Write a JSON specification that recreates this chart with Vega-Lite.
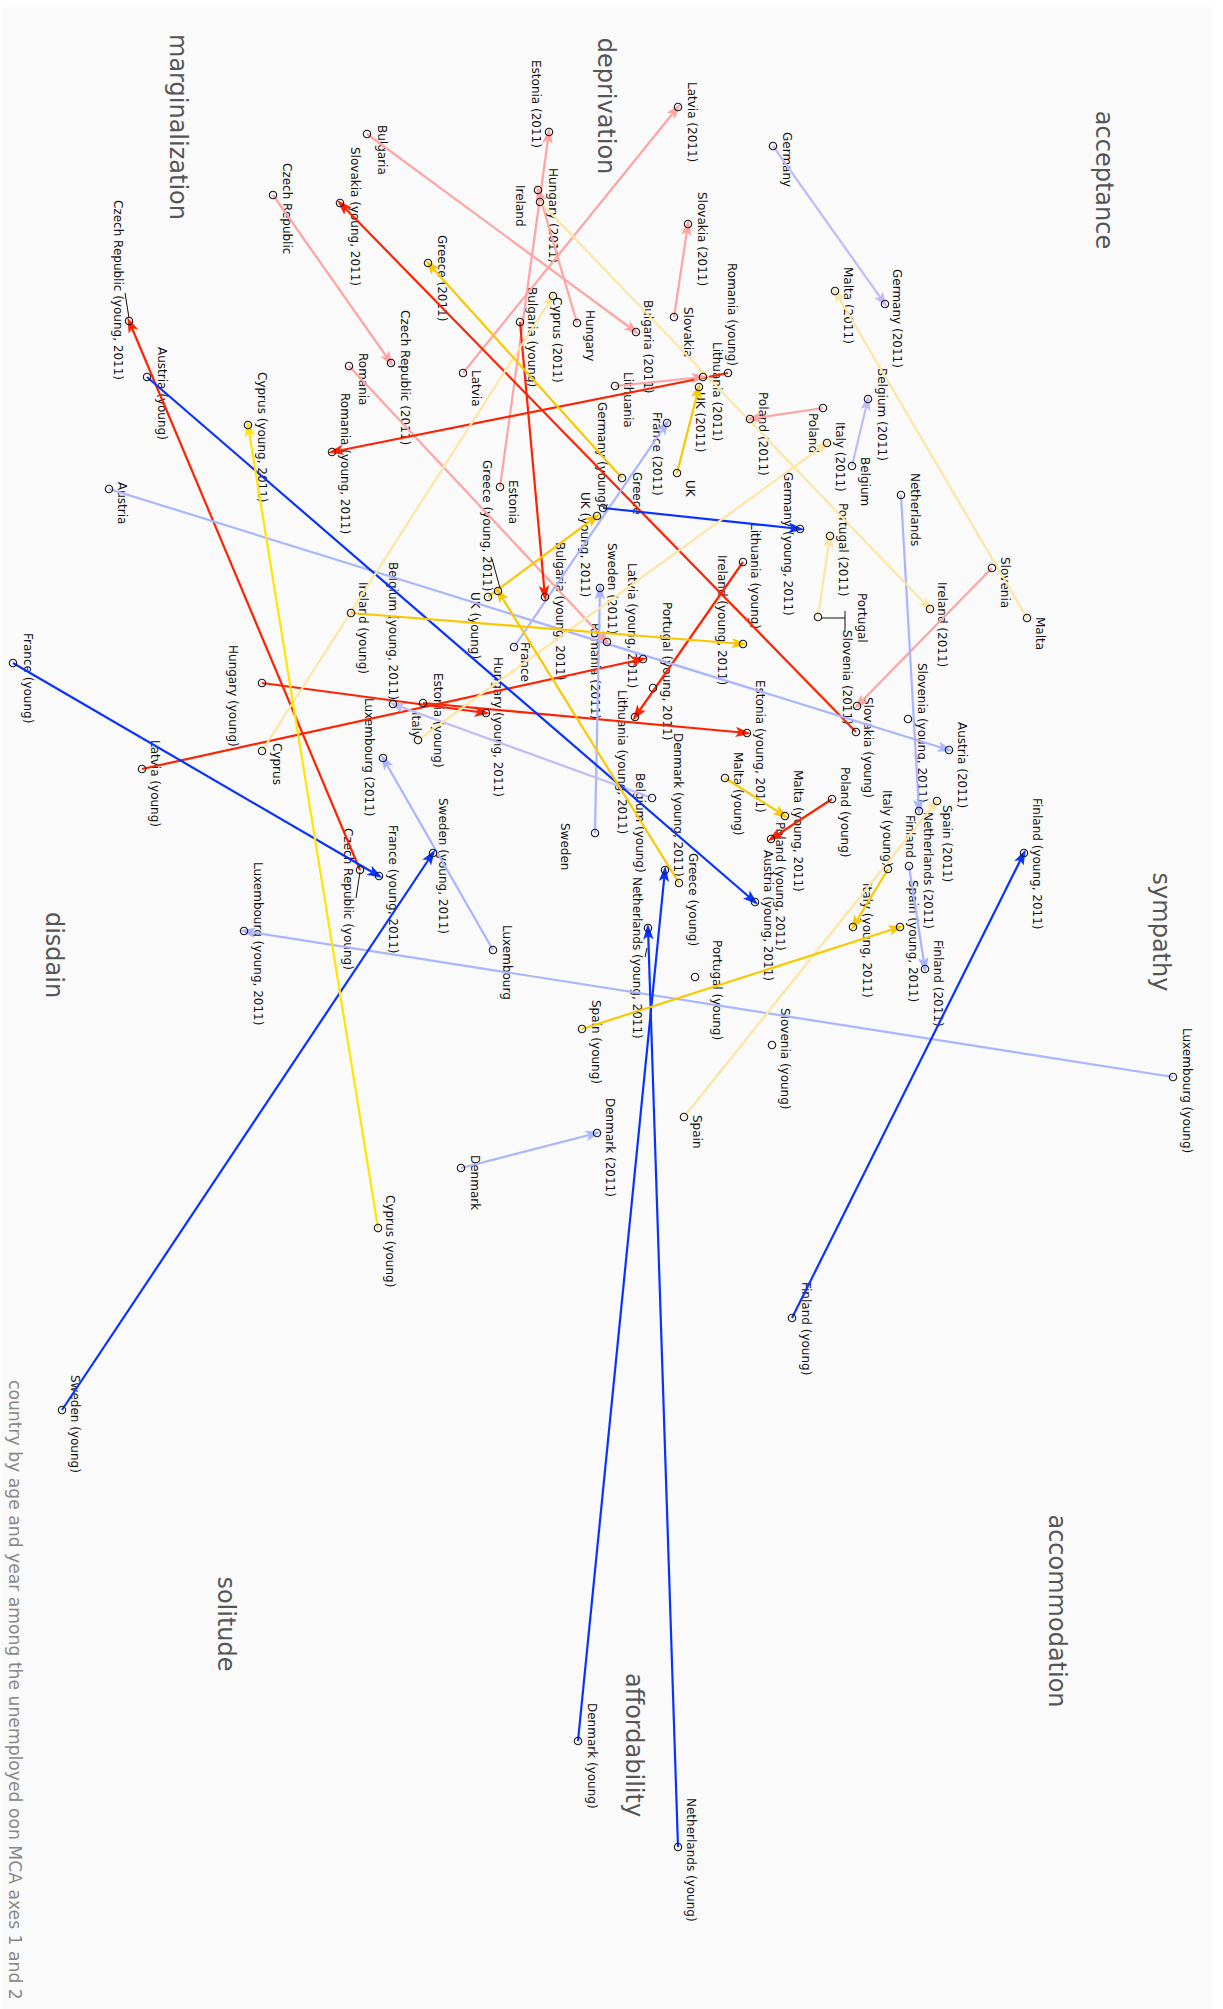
{
  "$schema": "https://vega.github.io/schema/vega-lite/v6.json",
  "width": 1210,
  "height": 2002,
  "autosize": {"type": "none"},
  "padding": {"left": 2, "top": 7, "right": 11, "bottom": 0},
  "background": "#ffffff",
  "config": {"view": {"fill": "#fafafa", "stroke": null}},
  "datasets": {
    "points": [
      {"name": "Austria", "a2": -5.01, "a1": -5.11, "la2": -4.88, "la1": -5.18},
      {"name": "Austria (2011)", "a2": 3.39, "a1": -2.5, "la2": 3.52, "la1": -2.78},
      {"name": "Austria (young)", "a2": -4.63, "a1": -6.23, "la2": -4.48, "la1": -6.53},
      {"name": "Austria (young, 2011)", "a2": 1.45, "a1": -0.98, "la2": 1.58, "la1": -1.5},
      {"name": "Belgium", "a2": 2.42, "a1": -5.34, "la2": 2.55, "la1": -5.43},
      {"name": "Belgium (2011)", "a2": 2.58, "a1": -6.01, "la2": 2.72, "la1": -6.32},
      {"name": "Belgium (young)", "a2": 0.42, "a1": -2.02, "la2": 0.3, "la1": -2.27},
      {"name": "Belgium (young, 2011)", "a2": -2.17, "a1": -2.96, "la2": -2.17, "la1": -4.38},
      {"name": "Bulgaria", "a2": -2.43, "a1": -8.66, "la2": -2.28, "la1": -8.75},
      {"name": "Bulgaria (2011)", "a2": 0.26, "a1": -6.68, "la2": 0.38, "la1": -7.0},
      {"name": "Bulgaria (young)", "a2": -0.9, "a1": -6.78, "la2": -0.78, "la1": -7.13},
      {"name": "Bulgaria (young, 2011)", "a2": -0.65, "a1": -4.03, "la2": -0.5, "la1": -4.58},
      {"name": "Cyprus", "a2": -3.48, "a1": -2.49, "la2": -3.33, "la1": -2.57},
      {"name": "Cyprus (2011)", "a2": -0.57, "a1": -7.04, "la2": -0.53, "la1": -7.03},
      {"name": "Cyprus (young)", "a2": -2.32, "a1": 2.28, "la2": -2.2, "la1": 1.95},
      {"name": "Cyprus (young, 2011)", "a2": -3.62, "a1": -5.75, "la2": -3.48, "la1": -6.28},
      {"name": "Czech Republic", "a2": -3.37, "a1": -8.05, "la2": -3.23, "la1": -8.37},
      {"name": "Czech Republic (2011)", "a2": -2.19, "a1": -6.37, "la2": -2.05, "la1": -6.9},
      {"name": "Czech Republic (young)", "a2": -2.5, "a1": -1.3, "la2": -2.62, "la1": -1.72},
      {"name": "Czech Republic (young, 2011)", "a2": -4.81, "a1": -6.79, "la2": -4.92, "la1": -8.0},
      {"name": "Denmark", "a2": -1.49, "a1": 1.68, "la2": -1.35, "la1": 1.55},
      {"name": "Denmark (2011)", "a2": -0.13, "a1": 1.33, "la2": 0.0, "la1": 0.98},
      {"name": "Denmark (young)", "a2": -0.32, "a1": 7.41, "la2": -0.18, "la1": 7.03},
      {"name": "Denmark (young, 2011)", "a2": 0.55, "a1": -1.3, "la2": 0.68, "la1": -2.67},
      {"name": "Estonia", "a2": -1.1, "a1": -5.13, "la2": -0.97, "la1": -5.2},
      {"name": "Estonia (2011)", "a2": -0.61, "a1": -8.68, "la2": -0.74, "la1": -9.4},
      {"name": "Estonia (young)", "a2": -1.87, "a1": -2.97, "la2": -1.72, "la1": -3.27},
      {"name": "Estonia (young, 2011)", "a2": 1.37, "a1": -2.67, "la2": 1.5, "la1": -3.2},
      {"name": "Finland", "a2": 2.99, "a1": -1.34, "la2": 3.0, "la1": -1.85},
      {"name": "Finland (2011)", "a2": 3.15, "a1": -0.31, "la2": 3.28, "la1": -0.6},
      {"name": "Finland (young)", "a2": 1.82, "a1": 3.18, "la2": 1.96, "la1": 2.82},
      {"name": "Finland (young, 2011)", "a2": 4.14, "a1": -1.47, "la2": 4.27, "la1": -2.02},
      {"name": "France", "a2": -0.96, "a1": -3.53, "la2": -0.85, "la1": -3.58},
      {"name": "France (2011)", "a2": 0.57, "a1": -5.77, "la2": 0.47, "la1": -5.88},
      {"name": "France (young)", "a2": -5.97, "a1": -3.37, "la2": -5.82, "la1": -3.67},
      {"name": "France (young, 2011)", "a2": -2.31, "a1": -1.24, "la2": -2.17, "la1": -1.75},
      {"name": "Germany", "a2": 1.63, "a1": -8.54, "la2": 1.77, "la1": -8.68},
      {"name": "Germany (2011)", "a2": 2.75, "a1": -6.96, "la2": 2.87, "la1": -7.31},
      {"name": "Germany (young)", "a2": -0.07, "a1": -4.92, "la2": -0.08, "la1": -5.98},
      {"name": "Germany (young, 2011)", "a2": 1.9, "a1": -4.71, "la2": 1.78, "la1": -5.28},
      {"name": "Greece", "a2": 0.12, "a1": -5.22, "la2": 0.27, "la1": -5.28},
      {"name": "Greece (2011)", "a2": -1.82, "a1": -7.37, "la2": -1.68, "la1": -7.65},
      {"name": "Greece (young)", "a2": 0.69, "a1": -1.17, "la2": 0.83, "la1": -1.47},
      {"name": "Greece (young, 2011)", "a2": -1.12, "a1": -4.09, "la2": -1.23, "la1": -5.4},
      {"name": "Hungary", "a2": -0.33, "a1": -6.77, "la2": -0.2, "la1": -6.9},
      {"name": "Hungary (2011)", "a2": -0.72, "a1": -8.1, "la2": -0.57, "la1": -8.32},
      {"name": "Hungary (young)", "a2": -3.48, "a1": -3.17, "la2": -3.77, "la1": -3.55},
      {"name": "Hungary (young, 2011)", "a2": -1.24, "a1": -2.87, "la2": -1.12, "la1": -3.43},
      {"name": "Ireland", "a2": -0.7, "a1": -7.98, "la2": -0.9, "la1": -8.15},
      {"name": "Ireland (2011)", "a2": 3.2, "a1": -3.91, "la2": 3.32, "la1": -4.18},
      {"name": "Ireland (young)", "a2": -2.59, "a1": -3.87, "la2": -2.47, "la1": -4.18},
      {"name": "Ireland (young, 2011)", "a2": 1.33, "a1": -3.56, "la2": 1.12, "la1": -4.45},
      {"name": "Italy", "a2": -1.92, "a1": -2.6, "la2": -1.94, "la1": -2.88},
      {"name": "Italy (2011)", "a2": 2.17, "a1": -5.57, "la2": 2.3, "la1": -5.78},
      {"name": "Italy (young)", "a2": 2.78, "a1": -1.31, "la2": 2.77, "la1": -2.1},
      {"name": "Italy (young, 2011)", "a2": 2.43, "a1": -0.73, "la2": 2.57, "la1": -1.17},
      {"name": "Latvia", "a2": -1.47, "a1": -6.27, "la2": -1.34, "la1": -6.3},
      {"name": "Latvia (2011)", "a2": 0.68, "a1": -8.93, "la2": 0.82, "la1": -9.18},
      {"name": "Latvia (young)", "a2": -4.68, "a1": -2.31, "la2": -4.55, "la1": -2.6},
      {"name": "Latvia (young, 2011)", "a2": 0.33, "a1": -3.41, "la2": 0.22, "la1": -4.37},
      {"name": "Lithuania", "a2": 0.05, "a1": -6.14, "la2": 0.18, "la1": -6.28},
      {"name": "Lithuania (2011)", "a2": 0.93, "a1": -6.23, "la2": 1.07, "la1": -6.58},
      {"name": "Lithuania (young)", "a2": 1.33, "a1": -4.38, "la2": 1.45, "la1": -4.77},
      {"name": "Lithuania (young, 2011)", "a2": 0.25, "a1": -2.83, "la2": 0.12, "la1": -3.1},
      {"name": "Luxembourg", "a2": -1.17, "a1": -0.5, "la2": -1.03, "la1": -0.75},
      {"name": "Luxembourg (2011)", "a2": -2.27, "a1": -2.42, "la2": -2.41, "la1": -3.02},
      {"name": "Luxembourg (young)", "a2": 5.63, "a1": 0.77, "la2": 5.77, "la1": 0.28},
      {"name": "Luxembourg (young, 2011)", "a2": -3.66, "a1": -0.69, "la2": -3.52, "la1": -1.38},
      {"name": "Malta", "a2": 4.17, "a1": -3.82, "la2": 4.3, "la1": -3.83},
      {"name": "Malta (2011)", "a2": 2.25, "a1": -7.09, "la2": 2.38, "la1": -7.33},
      {"name": "Malta (young)", "a2": 1.15, "a1": -2.22, "la2": 1.28, "la1": -2.48},
      {"name": "Malta (young, 2011)", "a2": 1.75, "a1": -1.84, "la2": 1.88, "la1": -2.3},
      {"name": "Netherlands", "a2": 2.91, "a1": -5.05, "la2": 3.05, "la1": -5.27},
      {"name": "Netherlands (2011)", "a2": 3.09, "a1": -1.89, "la2": 3.18, "la1": -1.88},
      {"name": "Netherlands (young)", "a2": 0.68, "a1": 8.47, "la2": 0.81, "la1": 7.98},
      {"name": "Netherlands (young, 2011)", "a2": 0.38, "a1": -0.72, "la2": 0.27, "la1": -1.23},
      {"name": "Poland", "a2": 2.13, "a1": -5.92, "la2": 2.03, "la1": -5.87},
      {"name": "Poland (2011)", "a2": 1.4, "a1": -5.81, "la2": 1.53, "la1": -6.08},
      {"name": "Poland (young)", "a2": 2.22, "a1": -2.01, "la2": 2.35, "la1": -2.33},
      {"name": "Poland (young, 2011)", "a2": 1.61, "a1": -1.61, "la2": 1.7, "la1": -1.78},
      {"name": "Portugal", "a2": 2.08, "a1": -3.83, "la2": 2.52, "la1": -4.07},
      {"name": "Portugal (2011)", "a2": 2.2, "a1": -4.64, "la2": 2.33, "la1": -4.97},
      {"name": "Portugal (young)", "a2": 0.85, "a1": -0.23, "la2": 1.07, "la1": -0.6},
      {"name": "Portugal (young, 2011)", "a2": 0.43, "a1": -3.12, "la2": 0.57, "la1": -3.98},
      {"name": "Romania", "a2": -2.61, "a1": -6.34, "la2": -2.47, "la1": -6.47},
      {"name": "Romania (2011)", "a2": -0.03, "a1": -3.58, "la2": -0.15, "la1": -3.77},
      {"name": "Romania (young)", "a2": 1.18, "a1": -6.27, "la2": 1.22, "la1": -7.37},
      {"name": "Romania (young, 2011)", "a2": -2.78, "a1": -5.48, "la2": -2.65, "la1": -6.07},
      {"name": "Slovakia", "a2": 0.64, "a1": -6.83, "la2": 0.78, "la1": -6.93},
      {"name": "Slovakia (2011)", "a2": 0.78, "a1": -7.76, "la2": 0.92, "la1": -8.08},
      {"name": "Slovakia (young)", "a2": 2.46, "a1": -2.68, "la2": 2.58, "la1": -3.03},
      {"name": "Slovakia (young, 2011)", "a2": -2.7, "a1": -7.97, "la2": -2.55, "la1": -8.53},
      {"name": "Slovenia", "a2": 3.82, "a1": -4.32, "la2": 3.95, "la1": -4.43},
      {"name": "Slovenia (2011)", "a2": 2.47, "a1": -2.94, "la2": 2.37, "la1": -3.7},
      {"name": "Slovenia (young)", "a2": 1.62, "a1": 0.45, "la2": 1.75, "la1": 0.08},
      {"name": "Slovenia (young, 2011)", "a2": 2.98, "a1": -2.81, "la2": 3.12, "la1": -3.37},
      {"name": "Spain", "a2": 0.74, "a1": 1.17, "la2": 0.87, "la1": 1.15},
      {"name": "Spain (2011)", "a2": 3.27, "a1": -1.99, "la2": 3.37, "la1": -1.95},
      {"name": "Spain (young)", "a2": -0.28, "a1": 0.29, "la2": -0.14, "la1": 0.0},
      {"name": "Spain (young, 2011)", "a2": 2.9, "a1": -0.73, "la2": 3.03, "la1": -1.2},
      {"name": "Sweden", "a2": -0.15, "a1": -1.67, "la2": -0.45, "la1": -1.77},
      {"name": "Sweden (2011)", "a2": -0.1, "a1": -4.12, "la2": 0.02, "la1": -4.57},
      {"name": "Sweden (young)", "a2": -5.48, "a1": 4.1, "la2": -5.35, "la1": 3.75},
      {"name": "Sweden (young, 2011)", "a2": -1.77, "a1": -1.47, "la2": -1.67, "la1": -2.02},
      {"name": "UK", "a2": 0.67, "a1": -5.27, "la2": 0.8, "la1": -5.2},
      {"name": "UK (2011)", "a2": 0.89, "a1": -6.13, "la2": 0.9, "la1": -6.08},
      {"name": "UK (young)", "a2": -1.22, "a1": -4.03, "la2": -1.35, "la1": -4.08},
      {"name": "UK (young, 2011)", "a2": -0.13, "a1": -4.84, "la2": -0.25, "la1": -5.08}
    ],
    "arrows": [
      {"from": "Bulgaria", "to": "Bulgaria (2011)", "shade": "pink"},
      {"from": "Czech Republic", "to": "Czech Republic (2011)", "shade": "pink"},
      {"from": "Estonia", "to": "Estonia (2011)", "shade": "pink"},
      {"from": "Hungary", "to": "Hungary (2011)", "shade": "pink"},
      {"from": "Latvia", "to": "Latvia (2011)", "shade": "pink"},
      {"from": "Lithuania", "to": "Lithuania (2011)", "shade": "pink"},
      {"from": "Poland", "to": "Poland (2011)", "shade": "pink"},
      {"from": "Romania", "to": "Romania (2011)", "shade": "pink"},
      {"from": "Slovakia", "to": "Slovakia (2011)", "shade": "pink"},
      {"from": "Slovenia", "to": "Slovenia (2011)", "shade": "pink"},
      {"from": "Bulgaria (young)", "to": "Bulgaria (young, 2011)", "shade": "red"},
      {"from": "Czech Republic (young)", "to": "Czech Republic (young, 2011)", "shade": "red"},
      {"from": "Estonia (young)", "to": "Estonia (young, 2011)", "shade": "red"},
      {"from": "Hungary (young)", "to": "Hungary (young, 2011)", "shade": "red"},
      {"from": "Latvia (young)", "to": "Latvia (young, 2011)", "shade": "red"},
      {"from": "Lithuania (young)", "to": "Lithuania (young, 2011)", "shade": "red"},
      {"from": "Poland (young)", "to": "Poland (young, 2011)", "shade": "red"},
      {"from": "Romania (young)", "to": "Romania (young, 2011)", "shade": "red"},
      {"from": "Slovakia (young)", "to": "Slovakia (young, 2011)", "shade": "red"},
      {"from": "Austria", "to": "Austria (2011)", "shade": "lightblue"},
      {"from": "Denmark", "to": "Denmark (2011)", "shade": "lightblue"},
      {"from": "Finland", "to": "Finland (2011)", "shade": "lightblue"},
      {"from": "France", "to": "France (2011)", "shade": "lightblue"},
      {"from": "Luxembourg", "to": "Luxembourg (2011)", "shade": "lightblue"},
      {"from": "Netherlands", "to": "Netherlands (2011)", "shade": "lightblue"},
      {"from": "Sweden", "to": "Sweden (2011)", "shade": "lightblue"},
      {"from": "Luxembourg (young)", "to": "Luxembourg (young, 2011)", "shade": "lightblue"},
      {"from": "Belgium", "to": "Belgium (2011)", "shade": "lavender"},
      {"from": "Germany", "to": "Germany (2011)", "shade": "lavender"},
      {"from": "Belgium (young)", "to": "Belgium (young, 2011)", "shade": "lavender"},
      {"from": "Austria (young)", "to": "Austria (young, 2011)", "shade": "blue"},
      {"from": "Denmark (young)", "to": "Denmark (young, 2011)", "shade": "blue"},
      {"from": "Finland (young)", "to": "Finland (young, 2011)", "shade": "blue"},
      {"from": "France (young)", "to": "France (young, 2011)", "shade": "blue"},
      {"from": "Germany (young)", "to": "Germany (young, 2011)", "shade": "blue"},
      {"from": "Netherlands (young)", "to": "Netherlands (young, 2011)", "shade": "blue"},
      {"from": "Sweden (young)", "to": "Sweden (young, 2011)", "shade": "blue"},
      {"from": "Cyprus", "to": "Cyprus (2011)", "shade": "lightyellow"},
      {"from": "Ireland", "to": "Ireland (2011)", "shade": "lightyellow"},
      {"from": "Italy", "to": "Italy (2011)", "shade": "lightyellow"},
      {"from": "Malta", "to": "Malta (2011)", "shade": "lightyellow"},
      {"from": "Portugal", "to": "Portugal (2011)", "shade": "lightyellow"},
      {"from": "Spain", "to": "Spain (2011)", "shade": "lightyellow"},
      {"from": "Greece", "to": "Greece (2011)", "shade": "gold"},
      {"from": "UK", "to": "UK (2011)", "shade": "gold"},
      {"from": "Greece (young)", "to": "Greece (young, 2011)", "shade": "gold"},
      {"from": "Ireland (young)", "to": "Ireland (young, 2011)", "shade": "gold"},
      {"from": "Italy (young)", "to": "Italy (young, 2011)", "shade": "gold"},
      {"from": "Malta (young)", "to": "Malta (young, 2011)", "shade": "gold"},
      {"from": "Spain (young)", "to": "Spain (young, 2011)", "shade": "gold"},
      {"from": "UK (young)", "to": "UK (young, 2011)", "shade": "gold"},
      {"from": "Cyprus (young)", "to": "Cyprus (young, 2011)", "shade": "yellow"}
    ],
    "leaders": [
      {"a2": -4.81, "a1": -6.82, "b2": -4.85, "b1": -7.07},
      {"a2": -1.1, "a1": -4.12, "b2": -1.18, "b1": -4.41},
      {"a2": -2.5, "a1": -1.28, "b2": -2.54, "b1": -1.02},
      {"a2": 2.12, "a1": -3.82, "b2": 2.35, "b1": -3.82},
      {"a2": 2.35, "a1": -3.89, "b2": 2.35, "b1": -3.68},
      {"a2": 0.37, "a1": -0.52, "b2": 0.35, "b1": -0.43}
    ],
    "regions": [
      {"word": "acceptance", "a2": 4.93, "a1": -8.2},
      {"word": "deprivation", "a2": -0.05, "a1": -8.94},
      {"word": "marginalization", "a2": -4.33, "a1": -8.73},
      {"word": "disdain", "a2": -5.57, "a1": -0.45},
      {"word": "solitude", "a2": -3.85, "a1": 6.24},
      {"word": "affordability", "a2": 0.23, "a1": 7.45},
      {"word": "accommodation", "a2": 4.46, "a1": 6.11},
      {"word": "sympathy", "a2": 5.5, "a1": -0.68}
    ],
    "caption": [
      {"text": "country by age and year among the unemployed oon MCA axes 1 and 2", "a2": -5.96, "a1": 3.8}
    ]
  },
  "layer": [
    {
      "data": {"name": "points"},
      "mark": {"type": "text", "angle": 90, "align": "left", "baseline": "middle", "font": "DejaVu Sans", "fontSize": 12, "color": "#111111"},
      "encoding": {
        "x": {"field": "la2", "type": "quantitative", "scale": {"domain": [-6.08, 6.02], "nice": false, "zero": false}, "axis": null},
        "y": {"field": "la1", "type": "quantitative", "scale": {"domain": [-9.93, 10.09], "nice": false, "zero": false, "reverse": true}, "axis": null},
        "text": {"field": "name"}
      }
    },
    {
      "data": {"name": "arrows"},
      "transform": [
        {"lookup": "from", "from": {"data": {"name": "points"}, "key": "name", "fields": ["a1", "a2"]}, "as": ["f1", "f2"]},
        {"lookup": "to", "from": {"data": {"name": "points"}, "key": "name", "fields": ["a1", "a2"]}, "as": ["t1", "t2"]}
      ],
      "mark": {"type": "rule", "strokeWidth": 2.2},
      "encoding": {
        "x": {"field": "f2", "type": "quantitative", "scale": {"domain": [-6.08, 6.02], "nice": false, "zero": false}, "axis": null},
        "y": {"field": "f1", "type": "quantitative", "scale": {"domain": [-9.93, 10.09], "nice": false, "zero": false, "reverse": true}, "axis": null},
        "x2": {"field": "t2"},
        "y2": {"field": "t1"},
        "color": {"field": "shade", "type": "nominal", "legend": null,
          "scale": {"domain": ["red", "pink", "blue", "lightblue", "lavender", "gold", "yellow", "lightyellow"],
                    "range": ["#ff2200", "#ffa3a3", "#0a32ff", "#a9b5ff", "#c2bbf7", "#f9c800", "#ffe500", "#fde6a3"]}}
      }
    },
    {
      "data": {"name": "arrows"},
      "transform": [
        {"lookup": "from", "from": {"data": {"name": "points"}, "key": "name", "fields": ["a1", "a2"]}, "as": ["f1", "f2"]},
        {"lookup": "to", "from": {"data": {"name": "points"}, "key": "name", "fields": ["a1", "a2"]}, "as": ["t1", "t2"]},
        {"calculate": "atan2(datum.t2 - datum.f2, datum.f1 - datum.t1) * 180 / PI", "as": "heading"}
      ],
      "mark": {"type": "point", "shape": "M0,-0.42L0.52,1.15L0,0.8L-0.52,1.15Z", "size": 400, "filled": true, "opacity": 1, "strokeWidth": 0},
      "encoding": {
        "x": {"field": "t2", "type": "quantitative", "scale": {"domain": [-6.08, 6.02], "nice": false, "zero": false}, "axis": null},
        "y": {"field": "t1", "type": "quantitative", "scale": {"domain": [-9.93, 10.09], "nice": false, "zero": false, "reverse": true}, "axis": null},
        "angle": {"field": "heading", "type": "quantitative", "scale": null},
        "color": {"field": "shade", "type": "nominal", "legend": null}
      }
    },
    {
      "data": {"name": "leaders"},
      "mark": {"type": "rule", "strokeWidth": 1, "color": "#111111"},
      "encoding": {
        "x": {"field": "a2", "type": "quantitative", "scale": {"domain": [-6.08, 6.02], "nice": false, "zero": false}, "axis": null},
        "y": {"field": "a1", "type": "quantitative", "scale": {"domain": [-9.93, 10.09], "nice": false, "zero": false, "reverse": true}, "axis": null},
        "x2": {"field": "b2"},
        "y2": {"field": "b1"}
      }
    },
    {
      "data": {"name": "points"},
      "mark": {"type": "point", "shape": "circle", "size": 55, "filled": false, "color": "#1a1a1a", "strokeWidth": 1.1, "opacity": 1},
      "encoding": {
        "x": {"field": "a2", "type": "quantitative", "scale": {"domain": [-6.08, 6.02], "nice": false, "zero": false}, "axis": null},
        "y": {"field": "a1", "type": "quantitative", "scale": {"domain": [-9.93, 10.09], "nice": false, "zero": false, "reverse": true}, "axis": null}
      }
    },
    {
      "data": {"name": "regions"},
      "mark": {"type": "text", "angle": 90, "align": "center", "baseline": "middle", "font": "DejaVu Sans", "fontSize": 24, "color": "#555555"},
      "encoding": {
        "x": {"field": "a2", "type": "quantitative", "scale": {"domain": [-6.08, 6.02], "nice": false, "zero": false}, "axis": null},
        "y": {"field": "a1", "type": "quantitative", "scale": {"domain": [-9.93, 10.09], "nice": false, "zero": false, "reverse": true}, "axis": null},
        "text": {"field": "word"}
      }
    },
    {
      "data": {"name": "caption"},
      "mark": {"type": "text", "angle": 90, "align": "left", "baseline": "middle", "font": "DejaVu Sans", "fontSize": 17.2, "color": "#888888"},
      "encoding": {
        "x": {"field": "a2", "type": "quantitative", "scale": {"domain": [-6.08, 6.02], "nice": false, "zero": false}, "axis": null},
        "y": {"field": "a1", "type": "quantitative", "scale": {"domain": [-9.93, 10.09], "nice": false, "zero": false, "reverse": true}, "axis": null},
        "text": {"field": "text"}
      }
    }
  ]
}
